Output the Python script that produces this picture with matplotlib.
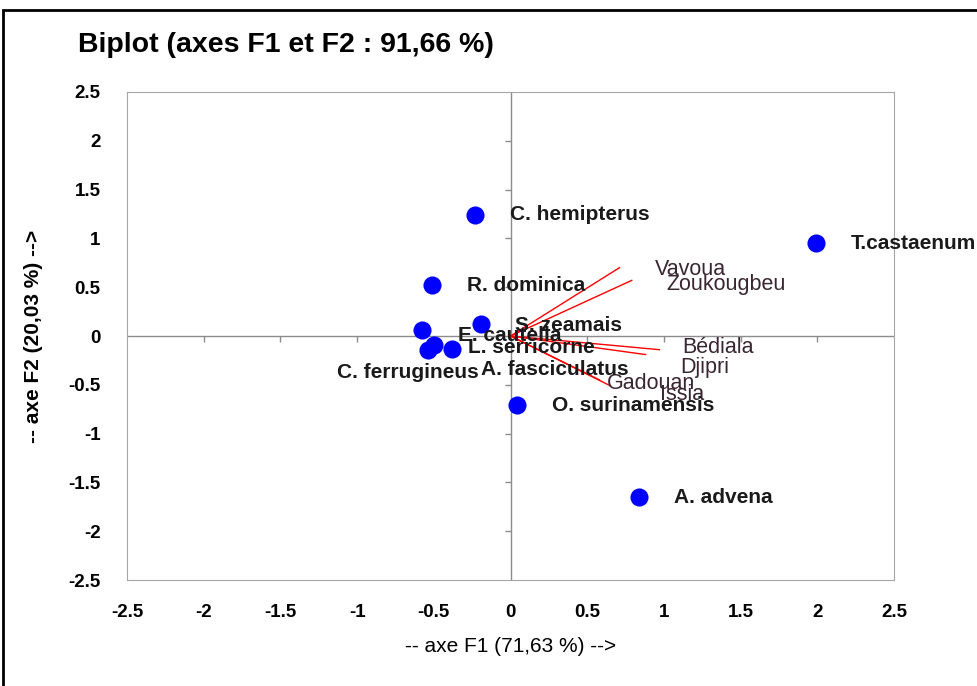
import numpy as np
import matplotlib.pyplot as plt
from matplotlib.patches import Rectangle

# observations (species) - coordinates on F1 / F2
species = ['C. hemipterus', 'T.castaenum', 'R. dominica', 'S. zeamais', 'E. cautella',
           'L. serricorne', 'C. ferrugineus', 'A. fasciculatus', 'O. surinamensis', 'A. advena']
sp_f1 = [-0.23, 1.99, -0.51, -0.19, -0.58, -0.50, -0.54, -0.38, 0.04, 0.84]
sp_f2 = [1.24, 0.95, 0.52, 0.12, 0.06, -0.09, -0.14, -0.13, -0.71, -1.65]

# variables (sites) - loadings on F1 / F2
sites = ['Vavoua', 'Zoukougbeu', 'Bédiala', 'Djipri', 'Gadouan', 'Issia']
site_f1 = [0.71, 0.79, 0.97, 0.88, 0.58, 0.65]
site_f2 = [0.70, 0.57, -0.14, -0.19, -0.45, -0.51]

ticks = [-2.5, -2, -1.5, -1, -0.5, 0, 0.5, 1, 1.5, 2, 2.5]
tick_labels = ['-2.5', '-2', '-1.5', '-1', '-0.5', '0', '0.5', '1', '1.5', '2', '2.5']

# label offsets in pixels (dx, dy, ha) - default to the right of the mark
sp_off = {'C. ferrugineus': (51, -23, 'right'), 'A. fasciculatus': (29, -21, 'left'),
          'E. cautella': (36, -5, 'left'), 'L. serricorne': (34, -3, 'left'),
          'S. zeamais': (34, -1, 'left')}
site_off = {'Vavoua': (35, -2), 'Zoukougbeu': (35, -4), 'Bédiala': (23, 2),
            'Djipri': (35, -13), 'Gadouan': (7, -4), 'Issia': (50, -9)}

plt.rcParams['font.family'] = ['Liberation Sans', 'DejaVu Sans']

fig = plt.figure(figsize=(9.78, 6.86), dpi=100)
ax = fig.add_axes([0.1299, 0.1545, 0.7843, 0.7114])
ax.set_xlim(-2.5, 2.5)
ax.set_ylim(-2.5, 2.5)

# zero axes with small ticks
ax.axhline(0, color='#8c8c8c', lw=1, zorder=1)
ax.axvline(0, color='#8c8c8c', lw=1, zorder=1)
tk = [t for t in ticks if t != 0 and abs(t) < 2.5]
ax.plot(tk, [0] * len(tk), ls='none', marker=3, ms=4, color='#8c8c8c', zorder=1)
ax.plot([0] * len(tk), tk, ls='none', marker=0, ms=4, color='#8c8c8c', zorder=1)

for s in ax.spines.values():
    s.set_color('#a6a6a6')

ax.set_xticks(ticks)
ax.set_xticklabels(tick_labels)
ax.set_yticks(ticks)
ax.set_yticklabels(tick_labels)
ax.tick_params(axis='x', length=0, pad=17, labelsize=13.5)
ax.tick_params(axis='y', length=0, pad=19, labelsize=13.5)
for lab in ax.get_xticklabels() + ax.get_yticklabels():
    lab.set_fontweight('bold')

# site vectors
for name, x, y in zip(sites, site_f1, site_f2):
    ax.plot([0, x], [0, y], color='red', lw=1, zorder=2)
    dx, dy = site_off[name]
    ax.annotate(name, (x, y), xytext=(dx * 0.72, dy * 0.72), textcoords='offset points',
                ha='left', va='center', fontsize=15.5, color='#3a2630', zorder=4)

# species points
ax.scatter(sp_f1, sp_f2, s=170, color='#0000ff', zorder=3, linewidths=0)
for name, x, y in zip(species, sp_f1, sp_f2):
    dx, dy, ha = sp_off.get(name, (35, 0, 'left'))
    ax.annotate(name, (x, y), xytext=(dx * 0.72, dy * 0.72), textcoords='offset points',
                ha=ha, va='center', fontsize=15, fontweight='bold', color='#1a1a1a',
                zorder=5, annotation_clip=False)

ax.set_xlabel('-- axe F1 (71,63 %) -->', fontsize=15, labelpad=12)
ax.set_ylabel('-- axe F2 (20,03 %) -->', fontsize=15, fontweight='bold', labelpad=18)

fig.text(0.08, 0.935, 'Biplot (axes F1 et F2 : 91,66 %)', fontsize=20.5, fontweight='bold',
         va='center', ha='left')

# outer frame (top and left only visible)
fig.patches.append(Rectangle((0.003, -0.1), 1.1, 1.085, transform=fig.transFigure,
                             fill=False, ec='black', lw=2))

fig.savefig('out.png', dpi=100)
